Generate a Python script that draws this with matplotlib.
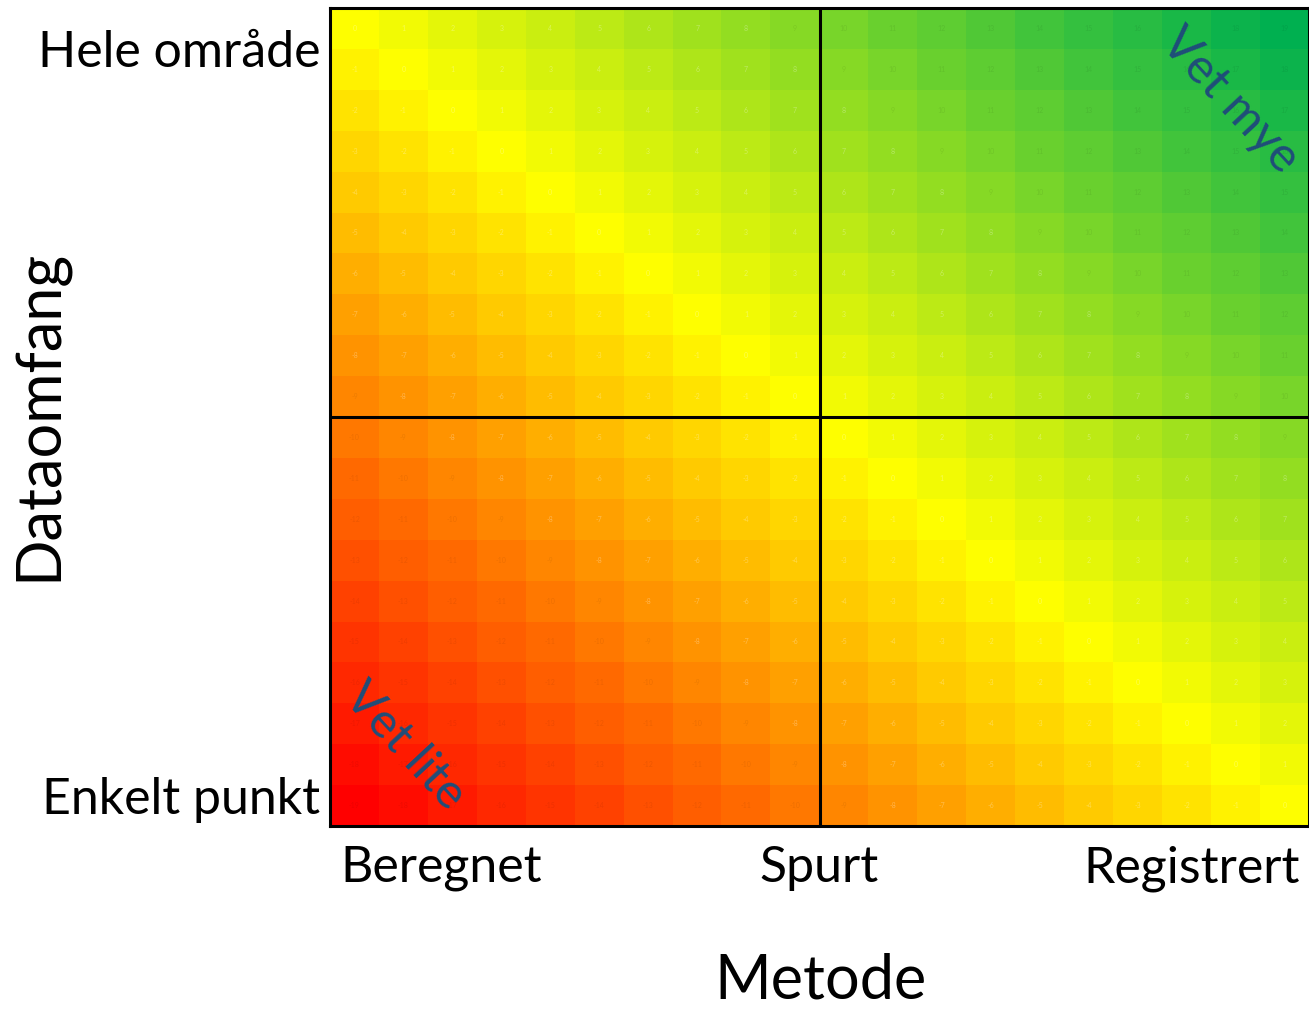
import numpy as np
import matplotlib
matplotlib.use("Agg")
from matplotlib import pyplot as plt
from matplotlib.colors import LinearSegmentedColormap

# %%
# Data: 20x20 grid, value = column + row - 19 (row counted from bottom)
n_cols = 20
n_rows = 20
col_idx = np.arange(n_cols)
row_idx = np.arange(n_rows)
values = col_idx[None, :] + row_idx[:, None] - 19

x_labels = ["Beregnet", "Spurt", "Registrert"]
x_label_pos = [2.27, 10.0, 17.6]
y_labels = ["Enkelt punkt", "Hele område"]
y_label_pos = [0.75, 19.0]

x_title = "Metode"
y_title = "Dataomfang"
corner_notes = ["Vet lite", "Vet mye"]

# %%
plt.rcParams['font.family'] = ['Lato', 'DejaVu Sans']

cmap = LinearSegmentedColormap.from_list("ryg", ["#ff0000", "#ffff00", "#00b050"])

fig = plt.figure(figsize=(13.09, 10.09), dpi=100)
ax = fig.add_axes([330 / 1309, 183 / 1009, 979 / 1309, 818 / 1009])

ax.imshow(values, cmap=cmap, vmin=-19, vmax=19, origin='lower',
          extent=[0, n_cols, 0, n_rows], aspect='auto', interpolation='nearest')

# faint numbers in each cell
for r in row_idx:
    for c in col_idx:
        v = values[r, c]
        if abs(v) <= 8:
            kw = dict(color='white', alpha=0.3)
        else:
            kw = dict(color='black', alpha=0.07)
        ax.text(c + 0.5, r + 0.5, f"{v}", ha='center', va='center',
                fontsize=5, **kw)

# quadrant lines
ax.axvline(n_cols / 2, color='black', lw=2.2)
ax.axhline(n_rows / 2, color='black', lw=2.2)

for s in ax.spines.values():
    s.set_linewidth(2.2)

ax.set_xlim(0, n_cols)
ax.set_ylim(0, n_rows)
ax.set_xticks(x_label_pos)
ax.set_xticklabels(x_labels, fontsize=36)
ax.set_yticks(y_label_pos)
ax.set_yticklabels(y_labels, fontsize=36)
ax.tick_params(axis='x', length=0, pad=14)
ax.tick_params(axis='y', length=0, pad=7)

fig.text(820 / 1309, 1 - 981 / 1009, x_title, fontsize=44,
         ha='center', va='center')
fig.text(40 / 1309, 1 - 415 / 1009, y_title, fontsize=44, rotation=90,
         ha='center', va='center')

ax.text(0.45, 3.35, corner_notes[0], rotation=-47, rotation_mode='anchor',
        fontsize=35, color='#1f4e79', ha='left', va='center')
ax.text(17.15, 19.35, corner_notes[1], rotation=-47, rotation_mode='anchor',
        fontsize=35, color='#1f4e79', ha='left', va='center')

fig.savefig("out.png", dpi=100)
